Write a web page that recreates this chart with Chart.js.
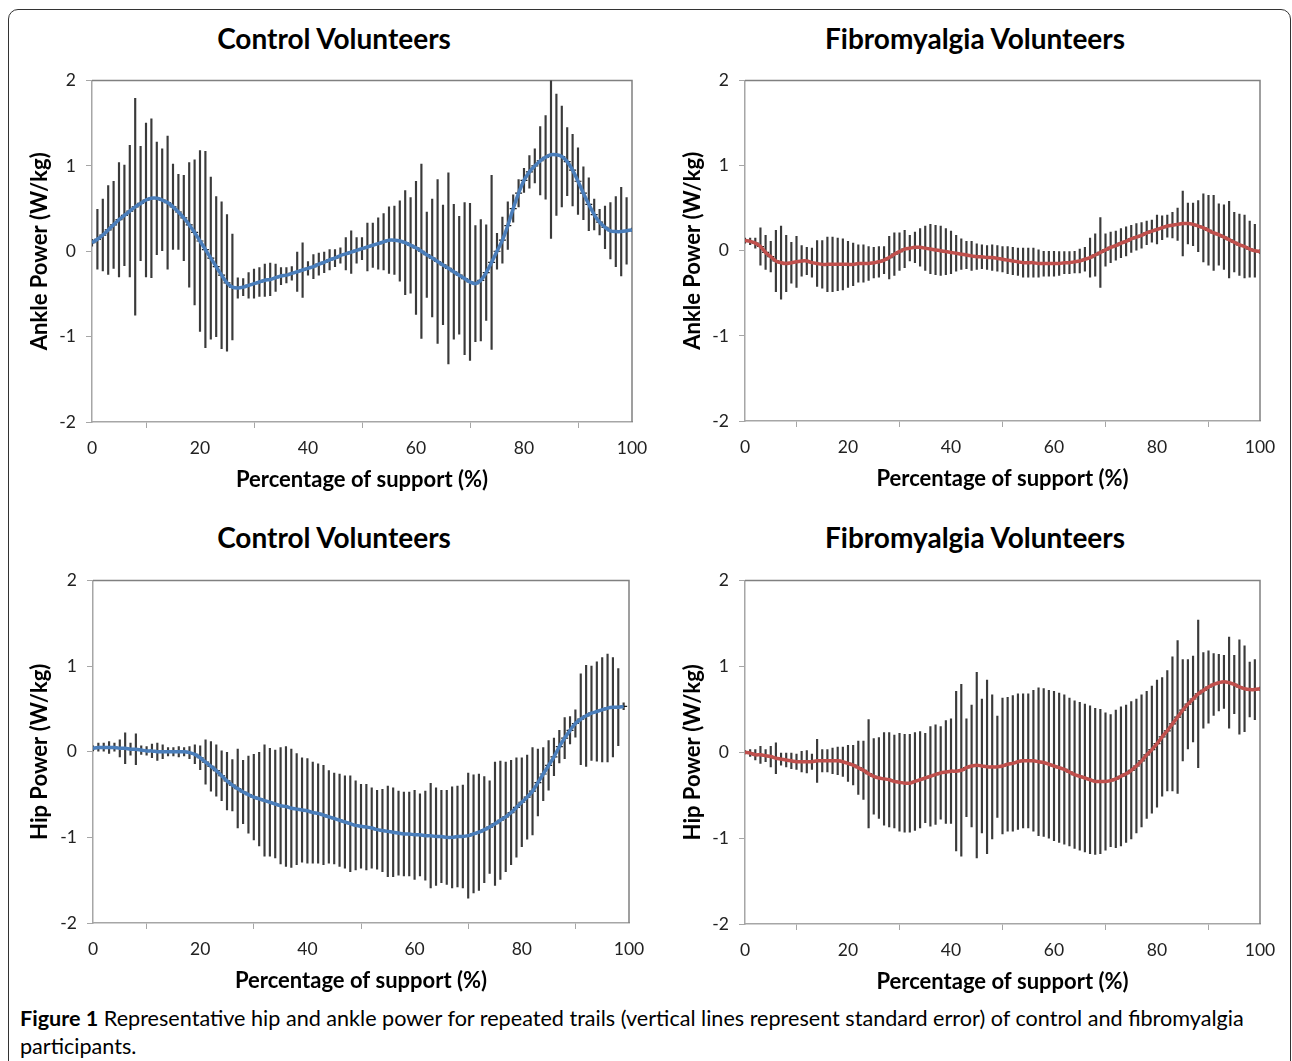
<!DOCTYPE html>
<html>
<head>
<meta charset="utf-8">
<script src="https://cdn.jsdelivr.net/npm/chart.js@4.4.0/dist/chart.umd.min.js"></script>
<style>
    body {
        margin: 0;
        width: 1292px;
        height: 1061px;
        position: relative;
        overflow: hidden;
        background: #fff;
        font-family: Lato, "Open Sans", sans-serif;
        color: #000;
    }
    .frame {
        position: absolute;
        left: 8px;
        top: 9px;
        width: 1283px;
        height: 1100px;
        border: 1.5px solid #333;
        border-radius: 10px;
        box-sizing: border-box;
    }
    .panel-title {
        position: absolute;
        width: 400px;
        text-align: center;
        font-weight: bold;
        font-size: 28px;
        line-height: 32px;
    }
    canvas { position: absolute; }
    .caption {
        position: absolute;
        left: 20px;
        top: 1004px;
        font-size: 21.6px;
        line-height: 28px;
        white-space: nowrap;
    }
</style>
</head>
<body>
<div class="frame"></div>
<div class="panel-title" style="left:134px; top:22px;">Control Volunteers</div>
<div class="panel-title" style="left:775px; top:22px;">Fibromyalgia Volunteers</div>
<div class="panel-title" style="left:134px; top:521px;">Control Volunteers</div>
<div class="panel-title" style="left:775px; top:521px;">Fibromyalgia Volunteers</div>
<div class="caption"><b>Figure 1</b> Representative hip and ankle power for repeated trails (vertical lines represent standard error) of control and fibromyalgia<br>participants.</div>

<script>
// percentuale del supporto (asse x)
const support = Array.from({ length: 101 }, (_, i) => i);
const xTicks = [0, 20, 40, 60, 80, 100];
const yTicks = [-2, -1, 0, 1, 2];

// caviglia - controlli
const ankleCtrlMean = [
    0.10, 0.14, 0.19, 0.25, 0.31, 0.37, 0.42, 0.47, 0.52, 0.56,
    0.60, 0.62, 0.62, 0.60, 0.57, 0.52, 0.46, 0.39, 0.31, 0.22,
    0.12, 0.02, -0.08, -0.18, -0.28, -0.37, -0.42, -0.43, -0.42, -0.40,
    -0.38, -0.36, -0.34, -0.33, -0.31, -0.29, -0.28, -0.26, -0.24, -0.22,
    -0.20, -0.18, -0.15, -0.13, -0.10, -0.08, -0.05, -0.03, -0.01, 0.01,
    0.03, 0.05, 0.07, 0.09, 0.11, 0.13, 0.13, 0.12, 0.10, 0.07,
    0.04, 0.00, -0.04, -0.08, -0.12, -0.16, -0.20, -0.24, -0.28, -0.32,
    -0.36, -0.38, -0.34, -0.25, -0.13, 0.00, 0.13, 0.30, 0.50, 0.68,
    0.83, 0.93, 1.00, 1.06, 1.10, 1.13, 1.13, 1.11, 1.05, 0.95,
    0.82, 0.68, 0.55, 0.43, 0.34, 0.28, 0.24, 0.23, 0.23, 0.24,
    0.25
];
const ankleCtrlErr = [
    0.04, 0.35, 0.42, 0.52, 0.51, 0.67, 0.59, 0.77, 1.27, 0.67,
    0.90, 0.93, 0.66, 0.60, 0.78, 0.50, 0.44, 0.50, 0.73, 0.85,
    1.06, 1.15, 0.95, 0.82, 0.86, 0.80, 0.62, 0.12, 0.10, 0.15,
    0.17, 0.17, 0.19, 0.19, 0.16, 0.10, 0.09, 0.08, 0.23, 0.32,
    0.08, 0.14, 0.13, 0.12, 0.12, 0.10, 0.09, 0.19, 0.25, 0.15,
    0.13, 0.28, 0.26, 0.30, 0.33, 0.39, 0.40, 0.47, 0.61, 0.56,
    0.78, 1.02, 0.50, 0.69, 0.96, 0.70, 1.12, 0.79, 0.69, 0.89,
    0.92, 0.68, 0.71, 0.56, 1.02, 0.21, 0.27, 0.28, 0.16, 0.16,
    0.14, 0.19, 0.20, 0.40, 0.49, 0.98, 0.71, 0.59, 0.40, 0.42,
    0.39, 0.31, 0.31, 0.18, 0.15, 0.25, 0.33, 0.41, 0.52, 0.39,
    0.02
];

// caviglia - fibromialgia
const ankleFibMean = [
    0.12, 0.11, 0.09, 0.05, -0.02, -0.07, -0.12, -0.14, -0.15, -0.14,
    -0.13, -0.12, -0.12, -0.14, -0.15, -0.16, -0.16, -0.16, -0.16, -0.16,
    -0.16, -0.16, -0.15, -0.15, -0.15, -0.14, -0.13, -0.11, -0.08, -0.04,
    -0.01, 0.02, 0.03, 0.04, 0.04, 0.03, 0.02, 0.01, 0.00, -0.01,
    -0.02, -0.03, -0.04, -0.05, -0.06, -0.07, -0.07, -0.08, -0.08, -0.09,
    -0.10, -0.11, -0.12, -0.13, -0.14, -0.14, -0.14, -0.15, -0.15, -0.15,
    -0.15, -0.15, -0.14, -0.14, -0.13, -0.12, -0.10, -0.08, -0.05, -0.02,
    0.01, 0.04, 0.06, 0.09, 0.11, 0.14, 0.16, 0.18, 0.21, 0.23,
    0.25, 0.27, 0.29, 0.30, 0.31, 0.32, 0.32, 0.31, 0.29, 0.27,
    0.24, 0.21, 0.19, 0.16, 0.13, 0.10, 0.07, 0.05, 0.02, 0.00,
    -0.01
];
const ankleFibErr = [
    0.03, 0.04, 0.06, 0.22, 0.20, 0.18, 0.36, 0.43, 0.33, 0.24,
    0.30, 0.18, 0.16, 0.17, 0.27, 0.28, 0.32, 0.32, 0.31, 0.30,
    0.27, 0.25, 0.22, 0.22, 0.20, 0.18, 0.18, 0.16, 0.25, 0.25,
    0.22, 0.22, 0.15, 0.18, 0.22, 0.26, 0.29, 0.29, 0.29, 0.27,
    0.25, 0.21, 0.18, 0.16, 0.17, 0.15, 0.14, 0.14, 0.15, 0.15,
    0.15, 0.16, 0.16, 0.16, 0.17, 0.17, 0.17, 0.16, 0.15, 0.15,
    0.15, 0.14, 0.13, 0.13, 0.13, 0.14, 0.14, 0.23, 0.25, 0.41,
    0.19, 0.18, 0.17, 0.17, 0.17, 0.16, 0.16, 0.15, 0.14, 0.13,
    0.17, 0.14, 0.13, 0.15, 0.19, 0.38, 0.24, 0.25, 0.30, 0.40,
    0.41, 0.44, 0.36, 0.38, 0.45, 0.35, 0.36, 0.37, 0.33, 0.31,
    0.02
];

// anca - controlli (0..99)
const hipCtrlMean = [
    0.04, 0.05, 0.05, 0.05, 0.05, 0.04, 0.04, 0.03, 0.03, 0.02,
    0.01, 0.01, 0.00, 0.00, 0.00, 0.00, 0.00, 0.00, -0.01, -0.03,
    -0.07, -0.12, -0.17, -0.22, -0.28, -0.34, -0.39, -0.43, -0.47, -0.50,
    -0.53, -0.55, -0.57, -0.59, -0.61, -0.63, -0.64, -0.66, -0.67, -0.68,
    -0.69, -0.71, -0.72, -0.74, -0.76, -0.78, -0.80, -0.82, -0.84, -0.86,
    -0.87, -0.88, -0.89, -0.91, -0.92, -0.93, -0.94, -0.95, -0.96, -0.96,
    -0.97, -0.97, -0.98, -0.98, -0.99, -0.99, -1.00, -1.00, -0.99, -0.99,
    -0.98, -0.96, -0.94, -0.91, -0.88, -0.84, -0.80, -0.76, -0.71, -0.65,
    -0.59, -0.53, -0.46, -0.36, -0.26, -0.16, -0.06, 0.06, 0.16, 0.25,
    0.33, 0.38, 0.42, 0.45, 0.47, 0.49, 0.51, 0.52, 0.52, 0.53
];
const hipCtrlErr = [
    0.03, 0.05, 0.05, 0.07, 0.05, 0.10, 0.18, 0.07, 0.18, 0.05,
    0.05, 0.08, 0.10, 0.08, 0.05, 0.05, 0.06, 0.05, 0.07, 0.11,
    0.14, 0.26, 0.29, 0.30, 0.29, 0.34, 0.30, 0.46, 0.37, 0.45,
    0.50, 0.55, 0.65, 0.63, 0.63, 0.68, 0.70, 0.69, 0.65, 0.61,
    0.61, 0.59, 0.58, 0.58, 0.54, 0.53, 0.54, 0.54, 0.56, 0.52,
    0.49, 0.50, 0.47, 0.46, 0.48, 0.53, 0.52, 0.49, 0.49, 0.49,
    0.52, 0.48, 0.52, 0.61, 0.57, 0.54, 0.55, 0.59, 0.59, 0.60,
    0.73, 0.69, 0.68, 0.62, 0.54, 0.72, 0.69, 0.64, 0.61, 0.58,
    0.52, 0.49, 0.51, 0.39, 0.31, 0.29, 0.22, 0.19, 0.24, 0.16,
    0.16, 0.53, 0.59, 0.55, 0.58, 0.61, 0.63, 0.58, 0.45, 0.04
];

// anca - fibromialgia
const hipFibMean = [
    0.00, -0.01, -0.03, -0.03, -0.04, -0.05, -0.07, -0.08, -0.09, -0.10,
    -0.11, -0.11, -0.11, -0.11, -0.10, -0.10, -0.10, -0.10, -0.10, -0.11,
    -0.13, -0.15, -0.18, -0.21, -0.25, -0.28, -0.30, -0.31, -0.32, -0.34,
    -0.35, -0.36, -0.36, -0.34, -0.32, -0.30, -0.28, -0.26, -0.24, -0.23,
    -0.22, -0.22, -0.21, -0.18, -0.16, -0.15, -0.16, -0.17, -0.17, -0.17,
    -0.16, -0.14, -0.13, -0.11, -0.10, -0.10, -0.10, -0.11, -0.12, -0.14,
    -0.16, -0.18, -0.20, -0.23, -0.26, -0.28, -0.30, -0.32, -0.34, -0.34,
    -0.34, -0.33, -0.31, -0.28, -0.25, -0.21, -0.16, -0.10, -0.03, 0.03,
    0.10, 0.18, 0.25, 0.33, 0.41, 0.49, 0.56, 0.62, 0.68, 0.72,
    0.76, 0.79, 0.81, 0.82, 0.81, 0.79, 0.76, 0.74, 0.73, 0.73,
    0.74
];
const hipFibErr = [
    0.02, 0.04, 0.06, 0.10, 0.07, 0.12, 0.18, 0.07, 0.08, 0.09,
    0.09, 0.12, 0.13, 0.09, 0.25, 0.13, 0.13, 0.15, 0.16, 0.17,
    0.21, 0.23, 0.31, 0.34, 0.63, 0.44, 0.47, 0.54, 0.55, 0.54,
    0.57, 0.57, 0.57, 0.57, 0.56, 0.52, 0.58, 0.58, 0.54, 0.60,
    0.61, 0.93, 1.00, 0.57, 0.71, 1.08, 0.78, 1.01, 0.84, 0.59,
    0.79, 0.78, 0.79, 0.79, 0.78, 0.78, 0.82, 0.86, 0.86, 0.86,
    0.87, 0.87, 0.87, 0.86, 0.86, 0.86, 0.86, 0.86, 0.85, 0.84,
    0.80, 0.77, 0.80, 0.81, 0.80, 0.80, 0.78, 0.77, 0.74, 0.74,
    0.74, 0.69, 0.70, 0.78, 0.89, 0.59, 0.52, 0.50, 0.86, 0.44,
    0.42, 0.36, 0.33, 0.31, 0.53, 0.34, 0.55, 0.50, 0.32, 0.35,
    0.02
];

const FONT = 'Lato, "Open Sans", sans-serif';
const AXIS_GREY = '#a6a6a6';

// bordo superiore e destro dell'area del grafico
const plotFrame = {
    id: 'plotFrame',
    beforeDatasetsDraw(chart) {
        const { ctx, chartArea } = chart;
        ctx.save();
        ctx.strokeStyle = '#808080';
        ctx.lineWidth = 1.5;
        ctx.beginPath();
        ctx.moveTo(chartArea.left, chartArea.top);
        ctx.lineTo(chartArea.right, chartArea.top);
        ctx.lineTo(chartArea.right, chartArea.bottom);
        ctx.stroke();
        ctx.restore();
    }
};

function makePanel(box, means, errors, color, yTitle) {
    const canvas = document.createElement('canvas');
    canvas.width = box.w;
    canvas.height = box.h;
    canvas.style.left = box.x + 'px';
    canvas.style.top = box.y + 'px';
    document.body.appendChild(canvas);

    const xs = support.slice(0, means.length);
    const linePts = xs.map((x, i) => ({ x: x, y: means[i] }));
    const barPts = xs.map((x, i) => ({ x: x, y: [means[i] - errors[i], means[i] + errors[i]] }));

    const tickFont = { family: FONT, size: 17.5 };
    const titleFont = { family: FONT, size: 22, weight: 'bold' };

    new Chart(canvas.getContext('2d'), {
        type: 'line',
        data: {
            datasets: [
                {
                    type: 'line',
                    data: linePts,
                    borderColor: color,
                    borderWidth: 3.5,
                    pointRadius: 0,
                    tension: 0.35,
                    order: 0
                },
                {
                    type: 'line',
                    data: linePts,
                    showLine: false,
                    pointStyle: 'line',
                    pointRadius: 3.5,
                    pointBorderColor: '#1a1a1a',
                    pointBorderWidth: 1.2,
                    order: 1
                },
                {
                    type: 'bar',
                    data: barPts,
                    backgroundColor: '#3a3a3a',
                    barThickness: 1.5,
                    grouped: false,
                    order: 2
                }
            ]
        },
        options: {
            responsive: false,
            animation: false,
            devicePixelRatio: 1,
            events: [],
            layout: { padding: box.pad },
            plugins: {
                legend: { display: false },
                tooltip: { enabled: false }
            },
            scales: {
                x: {
                    type: 'linear',
                    min: 0,
                    max: 100,
                    offset: false,
                    afterBuildTicks: (s) => { s.ticks = xTicks.map(v => ({ value: v })); },
                    ticks: { color: '#222', font: tickFont, padding: 10, maxRotation: 0 },
                    grid: { drawOnChartArea: false, drawTicks: true, tickLength: 6, color: AXIS_GREY },
                    border: { display: true, color: AXIS_GREY, width: 1.5 },
                    title: { display: true, text: 'Percentage of support (%)', color: '#000', font: titleFont, padding: { top: 0, bottom: 0 } },
                    afterFit: (s) => { s.height = box.xH; }
                },
                y: {
                    min: -2,
                    max: 2,
                    afterBuildTicks: (s) => { s.ticks = yTicks.map(v => ({ value: v })); },
                    ticks: { color: '#222', font: tickFont, padding: 10 },
                    grid: { drawOnChartArea: false, drawTicks: true, tickLength: 6, color: AXIS_GREY },
                    border: { display: true, color: AXIS_GREY, width: 1.5 },
                    title: { display: true, text: yTitle, color: '#000', font: titleFont, padding: { top: 15, bottom: 0 } },
                    afterFit: (s) => { s.width = box.yW; }
                }
            }
        },
        plugins: [plotFrame]
    });
}

// disposizione dei quattro pannelli
makePanel({ x: 0, y: 60, w: 660, h: 440, yW: 80, xH: 71, pad: { left: 12, top: 16, right: 28, bottom: 7 } },
    ankleCtrlMean, ankleCtrlErr, '#4a7ebb', 'Ankle Power (W/kg)');
makePanel({ x: 650, y: 60, w: 640, h: 440, yW: 80, xH: 71, pad: { left: 15, top: 16, right: 30, bottom: 8 } },
    ankleFibMean, ankleFibErr, '#c0504d', 'Ankle Power (W/kg)');
makePanel({ x: 0, y: 560, w: 660, h: 440, yW: 81, xH: 71, pad: { left: 12, top: 16, right: 31, bottom: 6 } },
    hipCtrlMean, hipCtrlErr, '#4a7ebb', 'Hip Power (W/kg)');
makePanel({ x: 650, y: 560, w: 640, h: 440, yW: 80, xH: 71, pad: { left: 15, top: 16, right: 30, bottom: 5 } },
    hipFibMean, hipFibErr, '#c0504d', 'Hip Power (W/kg)');
</script>
</body>
</html>
